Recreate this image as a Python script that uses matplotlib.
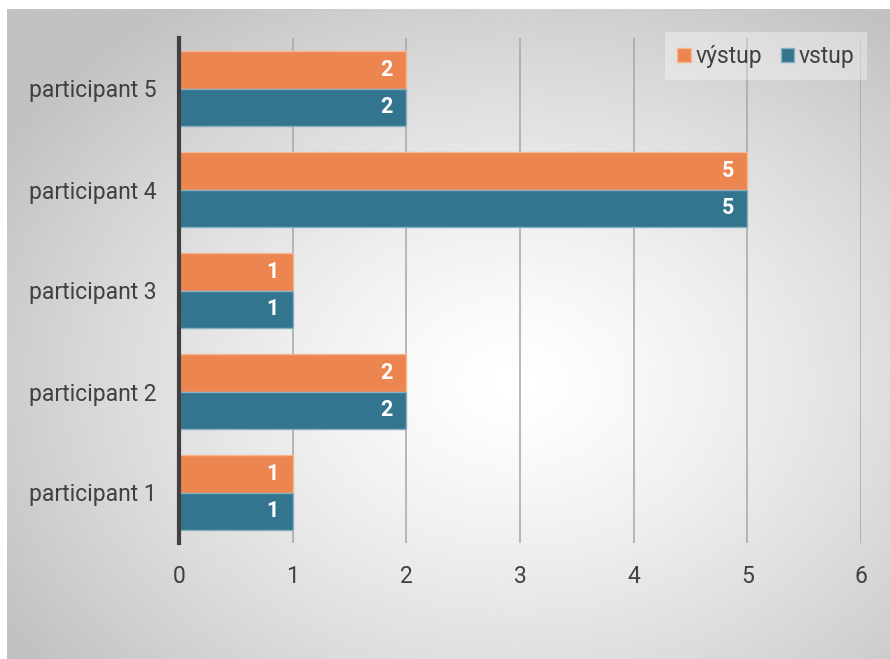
import numpy as np
import matplotlib.pyplot as plt

# data
participants = ["participant 1", "participant 2", "participant 3",
                "participant 4", "participant 5"]
vystup = [1, 2, 1, 5, 2]
vstup = [1, 2, 1, 5, 2]

orange = "#EC8550"
blue = "#33758F"
text_col = "#404040"

plt.rcParams["font.family"] = ["Roboto", "DejaVu Sans"]

fig = plt.figure(figsize=(8.9, 6.59), dpi=100)

# radial gradient background (white in the middle, grey at the edges)
bg = fig.add_axes([7 / 890, 0, 1 - 7 / 890, 1 - 9 / 659], zorder=-10)
gx, gy = np.meshgrid(np.linspace(-1, 1, 400), np.linspace(-1, 1, 300))
r = np.sqrt(((gx - 0.15) / 1.0) ** 2 + ((gy - 0.15) / 1.05) ** 2)
shade = 1.0 - 0.24 * np.clip(r / 1.35, 0, 1) ** 1.3
bg.imshow(shade, cmap="gray", vmin=0, vmax=1, aspect="auto",
          extent=[0, 1, 0, 1], interpolation="bilinear")
bg.axis("off")

# plot axes
ax = fig.add_axes([179 / 890, 1 - 543 / 659, (861 - 179) / 890, (543 - 38) / 659])
ax.patch.set_alpha(0)

y = np.arange(len(participants))
h = 0.375
b1 = ax.barh(y + h / 2, vystup, height=h, color=orange,
             edgecolor="#F6B692", linewidth=1, label="výstup", zorder=3)
b2 = ax.barh(y - h / 2, vstup, height=h, color=blue,
             edgecolor="#86AFC2", linewidth=1, label="vstup", zorder=3)

for bars in (b1, b2):
    for rect in bars:
        w = rect.get_width()
        ax.text(w - 0.12, rect.get_y() + rect.get_height() / 2, f"{w:g}",
                ha="right", va="center", color="white",
                fontsize=15.5, fontweight="bold", zorder=4)

ax.set_xlim(0, 6)
ax.set_ylim(-0.5, 4.5)
ax.set_xticks(range(0, 7))
ax.set_yticks(y)
ax.set_yticklabels(participants)
ax.tick_params(axis="both", length=0, labelsize=16.5, colors=text_col)
ax.tick_params(axis="x", pad=16)
ax.tick_params(axis="y", pad=16)

ax.grid(axis="x", color="#A6A6A6", linewidth=1.1, zorder=0)
for s in ["top", "right", "bottom"]:
    ax.spines[s].set_visible(False)
ax.spines["left"].set_color(text_col)
ax.spines["left"].set_linewidth(3)
ax.spines["left"].set_zorder(5)

leg = ax.legend(loc="upper right", bbox_to_anchor=(1.026, 1.034), ncol=2,
                frameon=True, fontsize=16.5, handlelength=0.6, handleheight=0.6,
                handletextpad=0.2, columnspacing=0.8, borderpad=0.55)
leg.get_frame().set_facecolor("white")
leg.get_frame().set_alpha(0.35)
leg.get_frame().set_edgecolor("none")
leg.get_frame().set_boxstyle("square", pad=0)
for t in leg.get_texts():
    t.set_color(text_col)

fig.savefig("out.png", dpi=100)
